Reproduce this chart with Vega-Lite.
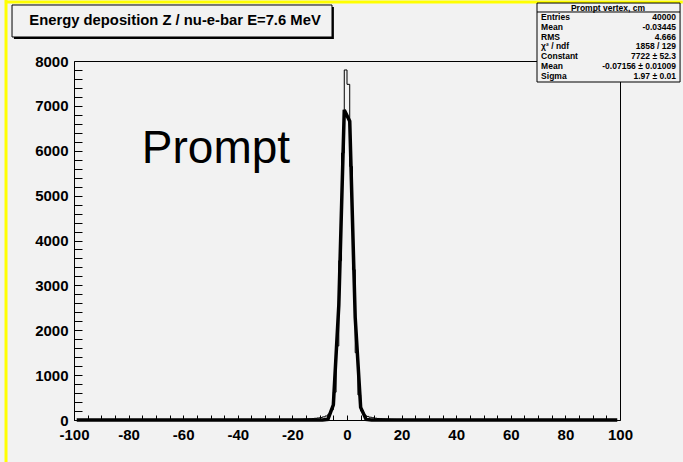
{
  "$schema": "https://vega.github.io/schema/vega-lite/v6.json",
  "autosize": {"type": "none"},
  "width": 546,
  "height": 359,
  "padding": {"left": 74, "top": 61, "right": 63, "bottom": 42},
  "background": "#f2f2f2",
  "config": {
    "view": {"stroke": "#000000", "strokeWidth": 1},
    "font": "Liberation Sans"
  },
  "datasets": {
    "hist": [
      {"z": -20, "n": 8}, {"z": -19, "n": 10}, {"z": -18, "n": 12}, {"z": -17, "n": 14},
      {"z": -16, "n": 18}, {"z": -15, "n": 22}, {"z": -14, "n": 26}, {"z": -13, "n": 30},
      {"z": -12, "n": 38}, {"z": -11, "n": 45}, {"z": -10, "n": 55}, {"z": -9, "n": 70},
      {"z": -8, "n": 90}, {"z": -7, "n": 130}, {"z": -6, "n": 230}, {"z": -5, "n": 620},
      {"z": -4, "n": 1650}, {"z": -3, "n": 3550}, {"z": -2, "n": 5950}, {"z": -1, "n": 7800},
      {"z": 0, "n": 7480}, {"z": 1, "n": 5650}, {"z": 2, "n": 3350}, {"z": 3, "n": 1500},
      {"z": 4, "n": 560}, {"z": 5, "n": 200}, {"z": 6, "n": 110}, {"z": 7, "n": 80},
      {"z": 8, "n": 62}, {"z": 9, "n": 50}, {"z": 10, "n": 40}, {"z": 11, "n": 34},
      {"z": 12, "n": 28}, {"z": 13, "n": 24}, {"z": 14, "n": 20}, {"z": 15, "n": 17},
      {"z": 16, "n": 14}, {"z": 17, "n": 12}, {"z": 18, "n": 10}, {"z": 19, "n": 8},
      {"z": 20, "n": 8}
    ],
    "fit": [
      {"z": -99, "f": 0}, {"z": -97, "f": 0}, {"z": -95, "f": 0}, {"z": -93, "f": 0}, {"z": -91, "f": 0},
      {"z": -89, "f": 0}, {"z": -87, "f": 0}, {"z": -85, "f": 0}, {"z": -83, "f": 0}, {"z": -81, "f": 0},
      {"z": -79, "f": 0}, {"z": -77, "f": 0}, {"z": -75, "f": 0}, {"z": -73, "f": 0}, {"z": -71, "f": 0},
      {"z": -69, "f": 0}, {"z": -67, "f": 0}, {"z": -65, "f": 0}, {"z": -63, "f": 0}, {"z": -61, "f": 0},
      {"z": -59, "f": 0}, {"z": -57, "f": 0}, {"z": -55, "f": 0}, {"z": -53, "f": 0}, {"z": -51, "f": 0},
      {"z": -49, "f": 0}, {"z": -47, "f": 0}, {"z": -45, "f": 0}, {"z": -43, "f": 0}, {"z": -41, "f": 0},
      {"z": -39, "f": 0}, {"z": -37, "f": 0}, {"z": -35, "f": 0}, {"z": -33, "f": 0}, {"z": -31, "f": 0},
      {"z": -29, "f": 0}, {"z": -27, "f": 0}, {"z": -25, "f": 0}, {"z": -23, "f": 0}, {"z": -21, "f": 0},
      {"z": -19, "f": 0}, {"z": -17, "f": 0}, {"z": -15, "f": 0}, {"z": -13, "f": 0}, {"z": -11, "f": 0},
      {"z": -9, "f": 0.3}, {"z": -7, "f": 15.9}, {"z": -5, "f": 338}, {"z": -3, "f": 2558}, {"z": -1, "f": 6910},
      {"z": 1, "f": 6660}, {"z": 3, "f": 2290}, {"z": 5, "f": 281}, {"z": 7, "f": 12.3}, {"z": 9, "f": 0.2},
      {"z": 11, "f": 0}, {"z": 13, "f": 0}, {"z": 15, "f": 0}, {"z": 17, "f": 0}, {"z": 19, "f": 0},
      {"z": 21, "f": 0}, {"z": 23, "f": 0}, {"z": 25, "f": 0}, {"z": 27, "f": 0}, {"z": 29, "f": 0},
      {"z": 31, "f": 0}, {"z": 33, "f": 0}, {"z": 35, "f": 0}, {"z": 37, "f": 0}, {"z": 39, "f": 0},
      {"z": 41, "f": 0}, {"z": 43, "f": 0}, {"z": 45, "f": 0}, {"z": 47, "f": 0}, {"z": 49, "f": 0},
      {"z": 51, "f": 0}, {"z": 53, "f": 0}, {"z": 55, "f": 0}, {"z": 57, "f": 0}, {"z": 59, "f": 0},
      {"z": 61, "f": 0}, {"z": 63, "f": 0}, {"z": 65, "f": 0}, {"z": 67, "f": 0}, {"z": 69, "f": 0},
      {"z": 71, "f": 0}, {"z": 73, "f": 0}, {"z": 75, "f": 0}, {"z": 77, "f": 0}, {"z": 79, "f": 0},
      {"z": 81, "f": 0}, {"z": 83, "f": 0}, {"z": 85, "f": 0}, {"z": 87, "f": 0}, {"z": 89, "f": 0},
      {"z": 91, "f": 0}, {"z": 93, "f": 0}, {"z": 95, "f": 0}, {"z": 97, "f": 0}, {"z": 99, "f": 0}
    ]
  },
  "layer": [
    {
      "data": {"name": "hist"},
      "mark": {"type": "line", "interpolate": "step-after", "color": "#000000", "strokeWidth": 1},
      "encoding": {
        "x": {
          "field": "z", "type": "quantitative",
          "scale": {"domain": [-100, 100], "nice": false, "zero": false},
          "axis": {
            "title": null, "grid": false, "domain": false, "tickCount": 500, "zindex": 1,
            "values": [-100, -95, -90, -85, -80, -75, -70, -65, -60, -55, -50, -45, -40, -35, -30, -25, -20, -15, -10, -5, 0, 5, 10, 15, 20, 25, 30, 35, 40, 45, 50, 55, 60, 65, 70, 75, 80, 85, 90, 95, 100],
            "labelExpr": "datum.value % 20 === 0 ? ('' + datum.value) : ''",
            "tickSize": -5,
            "tickColor": "#000000", "tickWidth": 1,
            "labelFont": "Liberation Sans", "labelFontWeight": "bold", "labelFontSize": 15,
            "labelColor": "#000000", "labelPadding": 12, "labelOverlap": false, "labelFlush": false,
            "encode": {"ticks": {"update": {"y2": {"signal": "datum.value % 20 === 0 ? -10 : -5"}}}}
          }
        },
        "y": {
          "field": "n", "type": "quantitative",
          "scale": {"domain": [0, 8000], "nice": false},
          "axis": {
            "title": null, "grid": false, "domain": false, "tickCount": 500, "zindex": 1,
            "values": [0, 200, 400, 600, 800, 1000, 1200, 1400, 1600, 1800, 2000, 2200, 2400, 2600, 2800, 3000, 3200, 3400, 3600, 3800, 4000, 4200, 4400, 4600, 4800, 5000, 5200, 5400, 5600, 5800, 6000, 6200, 6400, 6600, 6800, 7000, 7200, 7400, 7600, 7800, 8000],
            "labelExpr": "datum.value % 1000 === 0 ? ('' + datum.value) : ''",
            "tickSize": -8,
            "tickColor": "#000000", "tickWidth": 1,
            "labelFont": "Liberation Sans", "labelFontWeight": "bold", "labelFontSize": 15,
            "labelColor": "#000000", "labelPadding": 14, "labelOverlap": false, "labelFlush": false,
            "encode": {"ticks": {"update": {"x2": {"signal": "datum.value % 1000 === 0 ? 16 : 8"}}}}
          }
        }
      }
    },
    {
      "data": {"name": "fit"},
      "mark": {"type": "line", "color": "#000000", "strokeWidth": 3.5, "strokeJoin": "miter"},
      "encoding": {
        "x": {"field": "z", "type": "quantitative"},
        "y": {"field": "f", "type": "quantitative"}
      }
    },
    {
      "data": {"values": [{}]},
      "mark": {"type": "text", "text": "Prompt", "font": "Liberation Sans", "fontSize": 46, "align": "center", "baseline": "alphabetic", "color": "#000000"},
      "encoding": {"x": {"datum": -48}, "y": {"datum": 5727}}
    },
    {
      "data": {"values": [{}]},
      "mark": {"type": "rule", "color": "#ffff00", "strokeWidth": 3, "clip": false},
      "encoding": {"x": {"datum": -124.9}, "y": {"datum": 9471}, "y2": {"datum": -1047}}
    },
    {
      "data": {"values": [{}]},
      "mark": {"type": "rule", "color": "#ffff00", "strokeWidth": 3, "clip": false},
      "encoding": {"y": {"datum": 9315}, "x": {"datum": -125.3}, "x2": {"datum": 123.0}}
    },
    {
      "data": {"values": [{}]},
      "mark": {"type": "rect", "fill": "#000000", "clip": false},
      "encoding": {"x": {"datum": -122.0}, "x2": {"datum": -4.8}, "y": {"datum": 9203}, "y2": {"datum": 8490}}
    },
    {
      "data": {"values": [{}]},
      "mark": {"type": "rect", "fill": "#f2f2f2", "stroke": "#000000", "strokeWidth": 1, "clip": false},
      "encoding": {"x": {"datum": -122.7}, "x2": {"datum": -5.5}, "y": {"datum": 9248}, "y2": {"datum": 8535}}
    },
    {
      "data": {"values": [{}]},
      "mark": {"type": "text", "text": "Energy deposition Z / nu-e-bar E=7.6 MeV", "font": "Liberation Sans", "fontWeight": "bold", "fontSize": 14.8, "align": "center", "baseline": "middle", "color": "#000000", "clip": false},
      "encoding": {"x": {"datum": -63.0}, "y": {"datum": 8891}}
    },
    {
      "data": {"values": [{}]},
      "mark": {"type": "rect", "fill": "#f2f2f2", "stroke": "#000000", "strokeWidth": 1, "clip": false},
      "encoding": {"x": {"datum": 69.6}, "x2": {"datum": 122.0}, "y": {"datum": 9292}, "y2": {"datum": 7532}}
    },
    {
      "data": {"values": [{}]},
      "mark": {"type": "rule", "color": "#000000", "strokeWidth": 1, "clip": false},
      "encoding": {"x": {"datum": 69.6}, "x2": {"datum": 122.0}, "y": {"datum": 9092}}
    },
    {
      "data": {"values": [{}]},
      "mark": {"type": "text", "text": "Prompt vertex, cm", "font": "Liberation Sans", "fontWeight": "bold", "fontSize": 8.5, "align": "center", "baseline": "middle", "color": "#000000", "clip": false},
      "encoding": {"x": {"datum": 95.6}, "y": {"datum": 9192}}
    },
    {
      "data": {"values": [{}]},
      "mark": {"type": "text", "text": "Entries\nMean\nRMS\nχ² / ndf\nConstant\nMean\nSigma", "lineBreak": "\n", "lineHeight": 9.8, "font": "Liberation Sans", "fontWeight": "bold", "fontSize": 8.5, "align": "left", "baseline": "top", "color": "#000000", "clip": false},
      "encoding": {"x": {"datum": 71.1}, "y": {"datum": 9069}}
    },
    {
      "data": {"values": [{}]},
      "mark": {"type": "text", "text": "40000\n-0.03445\n4.666\n1858 / 129\n7722 ± 52.3\n-0.07156 ± 0.01009\n1.97 ± 0.01", "lineBreak": "\n", "lineHeight": 9.8, "font": "Liberation Sans", "fontWeight": "bold", "fontSize": 8.5, "align": "right", "baseline": "top", "color": "#000000", "clip": false},
      "encoding": {"x": {"datum": 120.5}, "y": {"datum": 9069}}
    }
  ]
}
